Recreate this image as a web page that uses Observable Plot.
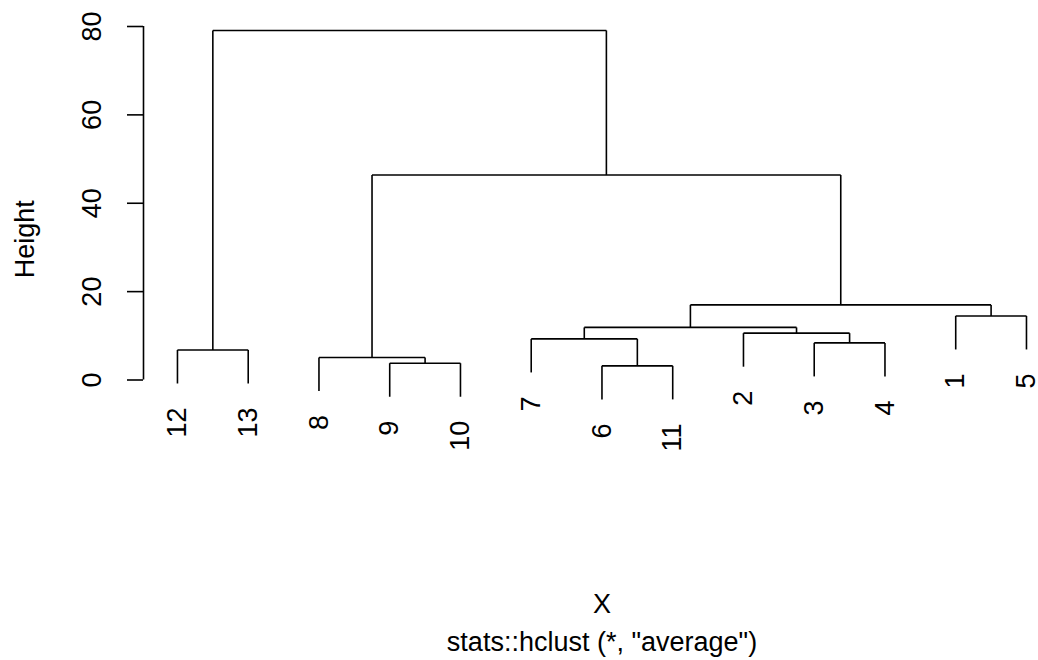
<!DOCTYPE html>
<html>
<head>
<meta charset="utf-8">
<script src="https://cdn.jsdelivr.net/npm/d3@7"></script>
<script src="https://cdn.jsdelivr.net/npm/@observablehq/plot@0.6"></script>
<style>
  html, body { margin: 0; padding: 0; background: #fff; }
  #chart { width: 1038px; height: 660px; }
</style>
</head>
<body>
<div id="chart"></div>
<script>
// ---- data ----
const leafLabels = ["1","2","3","4","5","6","7","8","9","10","11","12","13"];
const leafOrder = [12, 13, 8, 9, 10, 7, 6, 11, 2, 3, 4, 1, 5];
// hclust-style merge table: negative = leaf id, positive = earlier merge step
const mergeLeft   = [-6, -9, -8, -12, -3, -7, -2, 6, -1, 8, 3, 4];
const mergeRight  = [-11, -10, 2, -13, -4, 1, 5, 7, -5, 9, 10, 11];
const mergeHeight = [3.2, 3.8, 5.1, 6.8, 8.4, 9.3, 10.6, 11.9, 14.5, 17.0, 46.4, 79.1];
const yTicks = [0, 20, 40, 60, 80];
const yLabel = "Height";
const xLabel = "X";
const subLabel = 'stats::hclust (*, "average")';

// ---- dendrogram geometry (as plot.hclust does, hang = 0.1) ----
const hang = 0.1 * (d3.max(mergeHeight) - d3.min(mergeHeight));
const leafPos = new Map(leafOrder.map((id, i) => [id, i + 1]));
const nodeX = [];
const childX = c => c < 0 ? leafPos.get(-c) : nodeX[c - 1];
const segs = [];
const leaves = [];
mergeHeight.forEach((h, k) => {
  const a = mergeLeft[k], b = mergeRight[k];
  const xa = childX(a), xb = childX(b);
  nodeX[k] = (xa + xb) / 2;
  for (const [c, xc] of [[a, xa], [b, xb]]) {
    const yb = c < 0 ? h - hang : mergeHeight[c - 1];
    segs.push({x1: xc, y1: h, x2: xc, y2: yb});
    if (c < 0) leaves.push({x: xc, y: yb, label: leafLabels[-c - 1]});
  }
  segs.push({x1: xa, y1: h, x2: xb, y2: h});
});

const xDomain = [0.52, 13.17];
const font = "'Liberation Sans', Arial, sans-serif";
const fs = 27;
const ink = "#000";
const lw = 1.6;

const chart = Plot.plot({
  width: 1038,
  height: 660,
  marginLeft: 143,
  marginRight: 0,
  marginTop: 26,
  marginBottom: 280.5,
  x: {domain: xDomain, axis: null},
  y: {domain: [yTicks[0], yTicks[yTicks.length - 1]]},
  style: {fontFamily: font, background: "#fff", color: ink, overflow: "visible"},
  marks: [
    Plot.ruleX([xDomain[0]], {y1: yTicks[0], y2: yTicks[yTicks.length - 1], stroke: ink, strokeWidth: lw}),
    Plot.axisY({ticks: yTicks, tickSize: 16, tickFormat: () => "", stroke: ink, strokeWidth: lw}),
    Plot.text(yTicks, {x: xDomain[0], y: d => d, text: d => String(d), rotate: -90,
      textAnchor: "middle", lineAnchor: "middle", dx: -51, fontSize: fs, fill: ink}),
    Plot.text([yLabel], {frameAnchor: "left", text: d => d, rotate: -90, textAnchor: "middle",
      lineAnchor: "middle", dx: -118, dy: 36, fontSize: fs, fill: ink}),
    Plot.link(segs, {x1: "x1", y1: "y1", x2: "x2", y2: "y2", stroke: ink, strokeWidth: lw}),
    Plot.text(leaves, {x: "x", y: "y", text: "label", rotate: -90, textAnchor: "end",
      lineAnchor: "middle", dy: 24, fontSize: fs, fill: ink}),
    Plot.text([xLabel], {frameAnchor: "bottom", text: d => d, lineAnchor: "middle",
      dx: 11, dy: 224, fontSize: fs, fill: ink}),
    Plot.text([subLabel], {frameAnchor: "bottom", text: d => d, lineAnchor: "middle",
      dx: 11, dy: 262, fontSize: fs, fill: ink})
  ]
});
document.getElementById("chart").appendChild(chart);
</script>
</body>
</html>
